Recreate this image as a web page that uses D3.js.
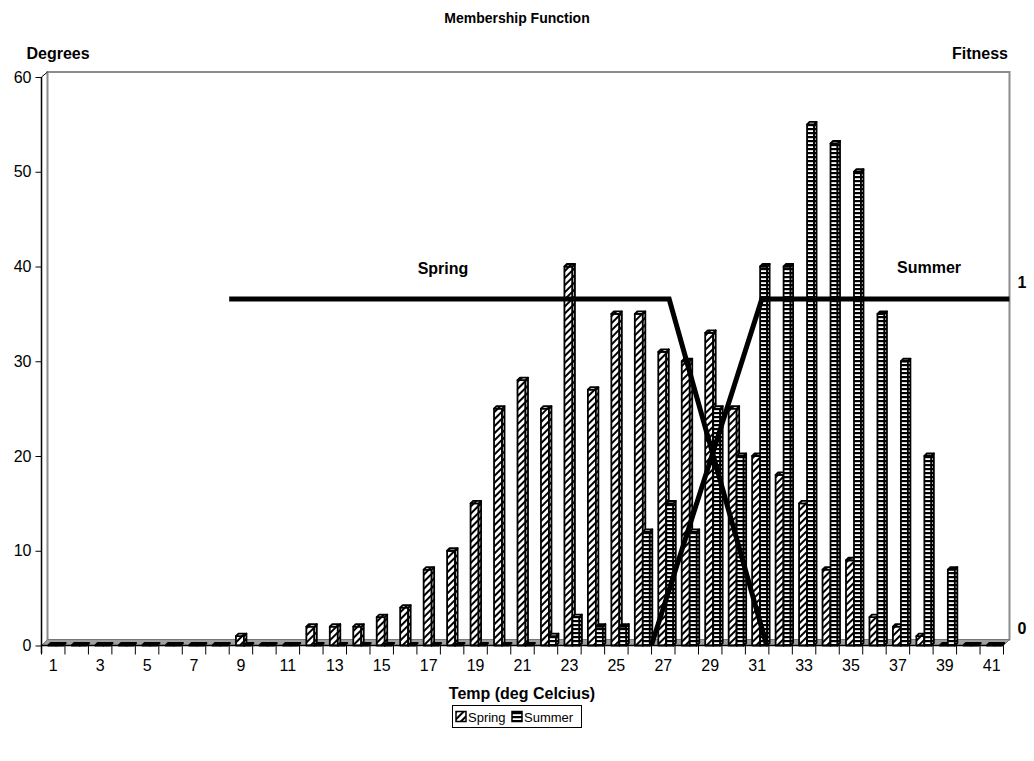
<!DOCTYPE html>
<html>
<head>
<meta charset="utf-8">
<script src="https://cdn.jsdelivr.net/npm/d3@7"></script>
<style>
  body { margin: 0; background: #fff; }
  text { font-family: "Liberation Sans", Arial, sans-serif; }
</style>
</head>
<body>
<div id="chart"></div>
<script>
var width = 1034;
var height = 761;

// data
var categories = [1,2,3,4,5,6,7,8,9,10,11,12,13,14,15,16,17,18,19,20,21,22,23,24,25,26,27,28,29,30,31,32,33,34,35,36,37,38,39,40,41];
var spring = [0,0,0,0,0,0,0,0,1,0,0,2,2,2,3,4,8,10,15,25,28,25,40,27,35,35,31,30,33,25,20,18,15,8,9,3,2,1,0,0,0];
var summer = [0,0,0,0,0,0,0,0,0,0,0,0,0,0,0,0,0,0,0,0,0,1,3,2,2,12,15,12,25,20,40,40,55,53,50,35,30,20,8,0,0];
var yTicks = [0,10,20,30,40,50,60];
var xLabels = [1,3,5,7,9,11,13,15,17,19,21,23,25,27,29,31,33,35,37,39,41];
var fitTicks = [0,1];
// membership functions (temperature, fitness)
var springFit = [[8.5,1],[27.25,1],[31.4,0]];
var summerFit = [[26.5,0],[31.2,1],[41.75,1]];
var seriesNames = ["Spring","Summer"];

var svg = d3.select("#chart").append("svg")
    .attr("width", width)
    .attr("height", height);

var defs = svg.append("defs");

var pSpring = defs.append("pattern")
    .attr("id", "hatchSpring")
    .attr("patternUnits", "userSpaceOnUse")
    .attr("width", 5).attr("height", 5)
    .attr("patternTransform", "rotate(45)");
pSpring.append("rect").attr("width", 5).attr("height", 5).attr("fill", "#fff");
pSpring.append("rect").attr("width", 2).attr("height", 5).attr("fill", "#000");

var pSummer = defs.append("pattern")
    .attr("id", "hatchSummer")
    .attr("patternUnits", "userSpaceOnUse")
    .attr("width", 4).attr("height", 4);
pSummer.append("rect").attr("width", 4).attr("height", 4).attr("fill", "#fff");
pSummer.append("rect").attr("width", 4).attr("height", 2.2).attr("fill", "#000");

var fills = ["url(#hatchSpring)", "url(#hatchSummer)"];

var x = d3.scaleBand().domain(categories).range([41.5, 1003.5]).padding(0);
var xc = d3.scaleLinear()
    .domain([1, 41])
    .range([x(1) + x.bandwidth()/2, x(41) + x.bandwidth()/2]);
var y = d3.scaleLinear().domain([0, 60]).range([645.5, 77]);
var yFit = d3.scaleLinear().domain([0, 1]).range([645, 299]);

var depth = 6;     // wall depth
var cap = 2.5;     // bar depth

// back walls
var wall = svg.append("g").attr("fill", "none").attr("stroke", "#8c8c8c").attr("stroke-width", 2);
wall.append("path")
    .attr("d", "M" + (x.range()[0] + depth) + "," + (y(0) - depth + 1) +
               "V" + (y(60) - depth + 1) +
               "H" + (x.range()[1] + depth) +
               "V" + (y(0) - depth + 1));
wall.append("line")
    .attr("x1", x.range()[0]).attr("y1", y(60))
    .attr("x2", x.range()[0] + depth).attr("y2", y(60) - depth + 1)
    .attr("stroke", "#000").attr("stroke-width", 1);

// floor
svg.append("path")
    .attr("d", "M" + x.range()[0] + "," + y(0) +
               "L" + x.range()[1] + "," + y(0) +
               "L" + (x.range()[1] + depth) + "," + (y(0) - depth) +
               "L" + (x.range()[0] + depth) + "," + (y(0) - depth) + "Z")
    .attr("fill", "#a0a0a0")
    .attr("stroke", "#777")
    .attr("stroke-width", 1);

// bars
var offsets = [-5, 3];
var widths = [8, 7];
var barsG = svg.append("g")
    .attr("stroke", "#000")
    .attr("stroke-width", 1.8)
    .attr("stroke-linejoin", "round");

categories.forEach(function(c, i){
    [spring[i], summer[i]].forEach(function(v, s){
        var cx = x(c) + x.bandwidth()/2;
        var x0 = cx + offsets[s];
        var w = widths[s];
        var top = y(v);
        var base = y(0);
        var g = barsG.append("g").attr("fill", fills[s]);
        if (v > 0) {
            g.append("rect")
                .attr("x", x0).attr("y", top)
                .attr("width", w).attr("height", base - top);
            g.append("path")
                .attr("d", "M" + (x0 + w) + "," + top +
                           "L" + (x0 + w + cap) + "," + (top - cap) +
                           "L" + (x0 + w + cap) + "," + (base - cap) +
                           "L" + (x0 + w) + "," + base + "Z");
        }
        g.append("path")
            .attr("d", "M" + x0 + "," + top +
                       "L" + (x0 + w) + "," + top +
                       "L" + (x0 + w + cap) + "," + (top - cap) +
                       "L" + (x0 + cap) + "," + (top - cap) + "Z")
            .attr("fill", v > 0 ? fills[s] : "#000");
    });
});

// y axis
var yAxis = svg.append("g")
    .attr("transform", "translate(" + x.range()[0] + ",0)")
    .call(d3.axisLeft(y).tickValues(yTicks).tickSize(6).tickPadding(4).tickSizeOuter(0));
yAxis.select(".domain").attr("stroke", "#000").attr("stroke-width", 1.5)
    .attr("d", "M0," + (y(0) + 8) + "V" + y(60));
yAxis.selectAll("text").attr("font-size", 16).attr("fill", "#000")
    .style("font-family", "'Liberation Sans', Arial, sans-serif");

// x axis
svg.append("line")
    .attr("x1", x.range()[0]).attr("x2", x.range()[1])
    .attr("y1", y(0)).attr("y2", y(0))
    .attr("stroke", "#000").attr("stroke-width", 1.5);
svg.append("g").selectAll("line")
    .data(categories.concat([42]))
    .enter().append("line")
    .attr("x1", function(d){ return x.range()[0] + (d - 1) * x.step(); })
    .attr("x2", function(d){ return x.range()[0] + (d - 1) * x.step(); })
    .attr("y1", y(0)).attr("y2", y(0) + 9)
    .attr("stroke", "#000").attr("stroke-width", 1);
svg.append("g").selectAll("text")
    .data(xLabels)
    .enter().append("text")
    .attr("x", function(d){ return x(d) + x.bandwidth()/2; })
    .attr("y", 671)
    .attr("text-anchor", "middle")
    .attr("font-size", 16)
    .text(function(d){ return d; });

// secondary (fitness) labels
svg.append("g").selectAll("text")
    .data(fitTicks)
    .enter().append("text")
    .attr("x", 1022)
    .attr("y", function(d){ return yFit(d) - 17 + 6; })
    .attr("text-anchor", "middle")
    .attr("font-size", 16)
    .attr("font-weight", "bold")
    .text(function(d){ return d; });

// membership lines
var line = d3.line()
    .x(function(d){ return xc(d[0]); })
    .y(function(d){ return yFit(d[1]); });
[springFit, summerFit].forEach(function(pts){
    svg.append("path")
        .attr("d", line(pts))
        .attr("fill", "none")
        .attr("stroke", "#000")
        .attr("stroke-width", 5)
        .attr("stroke-linejoin", "miter");
});

// labels
function label(txt, lx, ly, size, weight, anchor){
    svg.append("text")
        .attr("x", lx).attr("y", ly)
        .attr("text-anchor", anchor || "middle")
        .attr("font-size", size)
        .attr("font-weight", weight)
        .text(txt);
}
label("Membership Function", 517, 23, 14, "bold");
label("Degrees", 58, 59, 16, "bold");
label("Fitness", 980, 59, 16, "bold");
label("Spring", 443, 274, 16, "bold");
label("Summer", 929, 273, 16, "bold");
label("Temp (deg Celcius)", 522, 699, 16, "bold");

// legend
var legend = svg.append("g");
legend.append("rect")
    .attr("x", 452.5).attr("y", 705.5)
    .attr("width", 129).attr("height", 22)
    .attr("fill", "#fff").attr("stroke", "#000").attr("stroke-width", 1);
var legX = [456, 512];
seriesNames.forEach(function(n, s){
    legend.append("rect")
        .attr("x", legX[s]).attr("y", 711.5)
        .attr("width", 10).attr("height", 10)
        .attr("fill", fills[s]).attr("stroke", "#000").attr("stroke-width", 1.5);
    legend.append("text")
        .attr("x", legX[s] + 12).attr("y", 721.5)
        .attr("font-size", 13)
        .text(n);
});
</script>
</body>
</html>
